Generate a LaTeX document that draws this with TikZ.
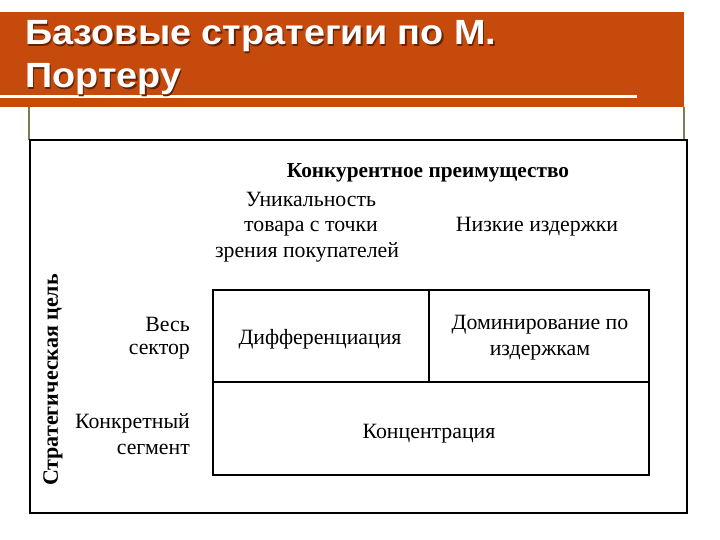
\documentclass[tikz,border=0pt]{standalone}
\usepackage{fontspec}
\setmainfont{Liberation Serif}
\newfontfamily\titlefont{Liberation Sans}
\definecolor{bannerc}{RGB}{198,74,12}
\definecolor{olivec}{RGB}{125,125,85}
\definecolor{shadowc}{RGB}{100,35,5}
\newcommand{\ttlbox}[1]{\scalebox{1.08}[1]{#1}}
\begin{document}
\begin{tikzpicture}[x=1pt,y=-1pt,
  ttl/.style={inner sep=0pt, anchor=base west, text=white, font=\titlefont\bfseries\fontsize{35}{40}\selectfont},
  ttlsh/.style={inner sep=0pt, anchor=base west, text=shadowc, font=\titlefont\bfseries\fontsize{35}{40}\selectfont},
  lbl/.style={inner sep=0pt, anchor=base, font=\fontsize{21.8}{26}\selectfont},
  rlbl/.style={inner sep=0pt, anchor=base east, font=\fontsize{21.8}{26}\selectfont},
  hdr/.style={inner sep=0pt, anchor=base, font=\bfseries\fontsize{21.3}{25}\selectfont},
  frame/.style={line width=2.4pt, draw=black},
  gridl/.style={line width=2pt, draw=black}]
\useasboundingbox[fill=white] (0,0) rectangle (720,540);
% banner
\fill[bannerc] (0,12) rectangle (684,107);
\draw[white, line width=3pt] (0,97) -- (637,97);
\node[ttlsh] (t1s) at (26.5,46.5) {\ttlbox{Базовые стратегии по М.}};
\node[ttlsh] (t2s) at (26.5,89.5) {\ttlbox{Портеру}};
\node[ttl] (t1) at (25,45) {\ttlbox{Базовые стратегии по М.}};
\node[ttl] (t2) at (25,88) {\ttlbox{Портеру}};
% olive posts
\draw[olivec, line width=2.5pt] (29,107) -- (29,140);
\draw[olivec, line width=2.5pt] (684,107) -- (684,140);
% outer frame
\draw[frame] (30,140) rectangle (687,513);
% grid
\coordinate (g1) at (213,290);
\coordinate (g2) at (649,475);
\coordinate (mtop) at (429,290);
\coordinate (mmid) at (429,382);
\coordinate (hl) at (213,382);
\coordinate (hr) at (649,382);
\draw[gridl] (g1) rectangle (g2);
\draw[gridl] (hl) -- (hr);
\draw[gridl] (mtop) -- (mmid);
% headers
\node[hdr] (kp) at (428,178) {Конкурентное преимущество};
\node[lbl] (u1) at (311,207) {Уникальность};
\node[lbl] (u2) at (311,232) {товара с точки};
\node[lbl] (u3) at (307,257) {зрения покупателей};
\node[lbl] (nz) at (537,232) {Низкие издержки};
% row labels
\node[rlbl] (v1) at (190,331) {Весь};
\node[rlbl] (v2) at (190,354) {сектор};
\node[rlbl] (k1) at (190,428) {Конкретный};
\node[rlbl] (k2) at (190,454) {сегмент};
% cells
\node[lbl] (dif) at (320,344) {Дифференциация};
\node[lbl] (dom1) at (540,329) {Доминирование по};
\node[lbl] (dom2) at (540,355) {издержкам};
\node[lbl] (kon) at (429,438) {Концентрация};
% vertical label
\node[inner sep=0pt, rotate=90, font=\bfseries\fontsize{22}{26}\selectfont] (sc) at (53,380) {Стратегическая цель};
\end{tikzpicture}
\end{document}
